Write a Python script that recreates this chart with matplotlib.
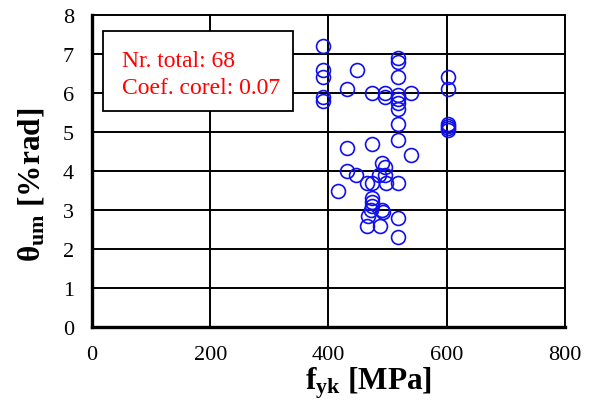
import matplotlib
matplotlib.use("Agg")
import matplotlib.pyplot as plt
from matplotlib.patches import Rectangle

plt.rcParams["font.family"] = ["Liberation Serif", "DejaVu Serif"]
plt.rcParams["mathtext.fontset"] = "custom"
plt.rcParams["mathtext.rm"] = "Liberation Serif"
plt.rcParams["mathtext.it"] = "Liberation Serif:italic"
plt.rcParams["mathtext.bf"] = "Liberation Serif:bold"

# Yield strength f_yk [MPa] and ultimate rotation theta_um [% rad]
fyk = [390, 390, 390, 390, 390,
       448, 432, 474, 495, 495,
       517, 517, 517, 517, 517, 517, 517, 517, 517, 517, 517, 517,
       540, 540,
       603, 603, 603, 603, 603, 603,
       432, 432, 474, 491, 495, 447, 485, 495, 466, 474, 497,
       416, 474, 474, 474, 472, 491, 493, 467, 465, 487]
theta_um = [7.2, 6.6, 6.4, 5.9, 5.8,
            6.6, 6.1, 6.0, 6.0, 5.9,
            6.9, 6.8, 6.4, 5.95, 5.85, 5.75, 5.6, 5.2, 4.8, 3.7, 2.8, 2.3,
            6.0, 4.4,
            6.4, 6.1, 5.2, 5.15, 5.1, 5.05,
            4.6, 4.0, 4.7, 4.2, 4.1, 3.9, 3.9, 3.9, 3.7, 3.7, 3.7,
            3.5, 3.3, 3.2, 3.1, 3.0, 3.0, 2.95, 2.85, 2.6, 2.6]

x_ticks = [0, 200, 400, 600, 800]
y_ticks = [0, 1, 2, 3, 4, 5, 6, 7, 8]
stats_lines = ["Nr. total: 68", "Coef. corel: 0.07"]

fig = plt.figure(figsize=(5.94, 4.02), dpi=100)
ax = fig.add_axes([0.155, 0.184, 0.796, 0.776])

ax.set_xlim(0, 800)
ax.set_ylim(0, 8)
ax.set_xticks(x_ticks)
ax.set_yticks(y_ticks)
ax.tick_params(length=0, labelsize=16)
ax.tick_params(axis="x", pad=13)
ax.tick_params(axis="y", pad=13)

for v in x_ticks[1:]:
    ax.axvline(v, color="black", lw=1.4, zorder=1, clip_on=False)
for v in y_ticks[1:]:
    ax.axhline(v, color="black", lw=1.4, zorder=1, clip_on=False)

for s in ["top", "right"]:
    ax.spines[s].set_visible(False)
for s in ["left", "bottom"]:
    ax.spines[s].set_linewidth(2.4)

ax.plot(fyk, theta_um, linestyle="none", marker="o", markersize=10,
        markerfacecolor="none", markeredgecolor="#1010ee",
        markeredgewidth=1.2, zorder=3, clip_on=False)

# statistics box
ax.add_patch(Rectangle((0.023, 0.692), 0.402, 0.257, transform=ax.transAxes,
                       facecolor="white", edgecolor="black", linewidth=1.3,
                       zorder=4))
for line, ypos in zip(stats_lines, [0.853, 0.769]):
    ax.text(0.063, ypos, line, transform=ax.transAxes, color="red",
            fontsize=17, va="center", ha="left", zorder=5)

ax.set_xlabel(r"$\mathbf{f_{yk}}$ [MPa]", fontsize=22.5, fontweight="bold")
ax.xaxis.set_label_coords(0.585, -0.12)
ax.set_ylabel(r"$\mathbf{\theta_{um}}$ [%rad]", fontsize=22.5, fontweight="bold")
ax.yaxis.set_label_coords(-0.097, 0.458)

fig.savefig("out.png", dpi=100)
